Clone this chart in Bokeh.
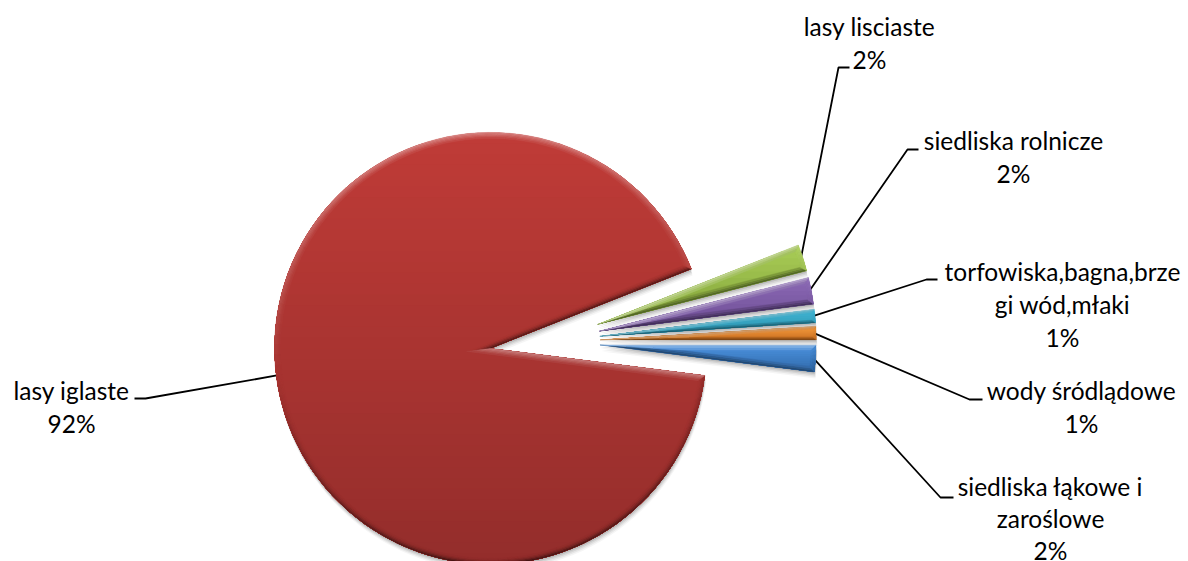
import math
from bokeh.plotting import figure
from bokeh.models import Range1d
from bokeh.core.properties import value
from bokeh.embed import file_html
from bokeh.resources import INLINE

# Share of each habitat type, in percent, counter-clockwise from the lowest small slice
habitats = ["siedliska łąkowe i zaroślowe", "wody śródlądowe",
            "torfowiska,bagna,brzegi wód,młaki", "siedliska rolnicze",
            "lasy lisciaste", "lasy iglaste"]
shares = [2, 1, 1, 2, 2, 92]
label_lines = [["siedliska łąkowe i", "zaroślowe"], ["wody śródlądowe"],
               ["torfowiska,bagna,brze", "gi wód,młaki"], ["siedliska rolnicze"],
               ["lasy lisciaste"], ["lasy iglaste"]]
top_colors = ["#4A90DC", "#F59A3C", "#3FB4D2", "#8A68B4", "#A8CC55", "#BF3B37"]
bottom_colors = ["#2F68A8", "#C96F20", "#2A8CA8", "#6A4A90", "#7E9E38", "#932D2B"]

W, H = 1188, 561
CENTER = (544.6, H - 341.0)
EXPLODE = 55.0
RADIUS = 216.0
FIRST_ANGLE = -7.2
FONT_PX = 24.5

# Label block centre (x, y of first line), line spacing and elbow of each leader, in page pixels
label_pos = [(1050, 486), (1081, 390), (1062, 271), (1013, 140), (869, 26), (71, 390)]
line_gaps = [32, 33, 33, 33, 33, 33]
elbows = [[(940, 497), (953, 497)], [(969, 399), (982, 399)], [(926, 279), (937, 279)],
          [(907, 149), (918, 149)], [(838, 67), (849, 67)], [(145, 398), (134, 398)]]


def hex_rgb(c):
    return tuple(int(c[i:i + 2], 16) for i in (1, 3, 5))


def mix(c1, c2, t):
    a, b = hex_rgb(c1), hex_rgb(c2)
    return "#%02x%02x%02x" % tuple(round(a[i] + (b[i] - a[i]) * t) for i in range(3))


def outline(cx, cy, r, a0, a1, steps):
    pts = [(cx, cy)]
    for i in range(steps + 1):
        a = math.radians(a0 + (a1 - a0) * i / steps)
        pts.append((cx + r * math.cos(a), cy + r * math.sin(a)))
    return pts


def inset_outline(cx, cy, r, a0, a1, steps, w):
    half = math.radians((a1 - a0) / 2)
    mid = math.radians((a0 + a1) / 2)
    t = w / math.sin(half)
    ax, ay = cx + t * math.cos(mid), cy + t * math.sin(mid)
    delta = math.degrees(math.asin(w / (r - w)))
    pts = [(ax, ay)]
    for i in range(steps + 1):
        a = math.radians(a0 + delta + (a1 - a0 - 2 * delta) * i / steps)
        pts.append((cx + (r - w) * math.cos(a), cy + (r - w) * math.sin(a)))
    return pts


def clip_below(poly, level):
    out = []
    for i, (x1, y1) in enumerate(poly):
        x2, y2 = poly[(i + 1) % len(poly)]
        in1, in2 = y1 <= level, y2 <= level
        if in1:
            out.append((x1, y1))
        if in1 != in2:
            t = (level - y1) / (y2 - y1)
            out.append((x1 + (x2 - x1) * t, level))
    return out


p = figure(width=W, height=H, x_range=Range1d(0, W), y_range=Range1d(0, H),
           x_axis_type=None, y_axis_type=None, toolbar_location=None,
           output_backend="svg", min_border=0, outline_line_color=None,
           background_fill_color="white", border_fill_color="white")
p.grid.visible = False

# Slice geometry derived from the shares
slices = []
start = FIRST_ANGLE
for share in shares:
    sweep = share * 3.6
    end = start + sweep
    mid = math.radians(start + sweep / 2)
    slices.append((CENTER[0] + EXPLODE * math.cos(mid),
                   CENTER[1] + EXPLODE * math.sin(mid), start, end))
    start = end

# Leader lines run under the slices
for (cx, cy, a0, a1), elbow in zip(slices, elbows):
    mid = math.radians((a0 + a1) / 2)
    xs = [cx + (RADIUS - 2) * math.cos(mid)] + [e[0] for e in elbow]
    ys = [cy + (RADIUS - 2) * math.sin(mid)] + [H - e[1] for e in elbow]
    p.line(xs, ys, line_color="black", line_width=1.8)

LIGHT = (-0.12, 0.99)
for idx, (cx, cy, a0, a1) in enumerate(slices):
    big = shares[idx] > 50
    steps = 120 if big else 6
    bevel = 6.0 if big else (2.8 if shares[idx] == 1 else 5.0)
    poly = outline(cx, cy, RADIUS, a0, a1, steps)
    top, bottom = top_colors[idx], bottom_colors[idx]

    # Soft drop shadow
    for off, alpha in ((2, 0.10), (3.5, 0.08), (5, 0.06), (6.5, 0.04)):
        p.patch([q[0] + off * 0.2 for q in poly], [q[1] - off for q in poly],
                fill_color="#000000", fill_alpha=alpha, line_color=None)

    # Vertical gradient: nested clips painted from the top colour downwards
    ymin, ymax = min(q[1] for q in poly), max(q[1] for q in poly)
    bands = 40 if big else 12
    xs, ys, cols = [], [], []
    for b in range(bands + 1):
        f = b / bands
        level = ymax - (ymax - ymin) * f
        part = poly if b == 0 else clip_below(poly, level + 0.01)
        if len(part) >= 3:
            xs.append([q[0] for q in part])
            ys.append([q[1] for q in part])
            cols.append(mix(top, bottom, f))
    p.patches(xs, ys, fill_color=cols, line_color=None)

    # Bevelled rim, shaded by how each edge faces the light
    rings = 5 if big else 3
    xs, ys, cols = [], [], []
    for r in range(rings):
        w0, w1 = bevel * r / rings, bevel * (r + 1) / rings
        o = poly if r == 0 else inset_outline(cx, cy, RADIUS, a0, a1, steps, w0)
        n = inset_outline(cx, cy, RADIUS, a0, a1, steps, w1)
        strength = 1 - r / rings
        for i in range(len(o)):
            j = (i + 1) % len(o)
            dx, dy = o[j][0] - o[i][0], o[j][1] - o[i][1]
            length = math.hypot(dx, dy) or 1
            nx, ny = dy / length, -dx / length
            s = nx * LIGHT[0] + ny * LIGHT[1]
            py = (o[i][1] + o[j][1]) / 2
            base = mix(top, bottom, (ymax - py) / (ymax - ymin))
            if s >= 0:
                col = mix(base, "#ffffff", (0.38 if big else 0.42) * s * strength)
            else:
                # the dark rim is narrower than the light one
                dark = strength ** 2 if big else strength
                col = mix(base, "#000000", (0.55 if big else 0.42) * (-s) * dark)
            xs.append([o[i][0], o[j][0], n[j][0], n[i][0]])
            ys.append([o[i][1], o[j][1], n[j][1], n[i][1]])
            cols.append(col)
    p.patches(xs, ys, fill_color=cols, line_color=cols, line_width=0.4)

# Data labels: name lines followed by the percentage
tx, ty, tt = [], [], []
for lines, share, (lx, ly), gap in zip(label_lines, shares, label_pos, line_gaps):
    for k, text in enumerate(lines + [f"{share}%"]):
        tx.append(lx)
        ty.append(H - (ly + k * gap))
        tt.append(text)
p.text(tx, ty, text=tt, text_font=value("Lato"), text_font_size=f"{FONT_PX}px",
       text_color="black", text_align="center", text_baseline="middle")

open("out.html", "w").write(file_html(p, INLINE))
